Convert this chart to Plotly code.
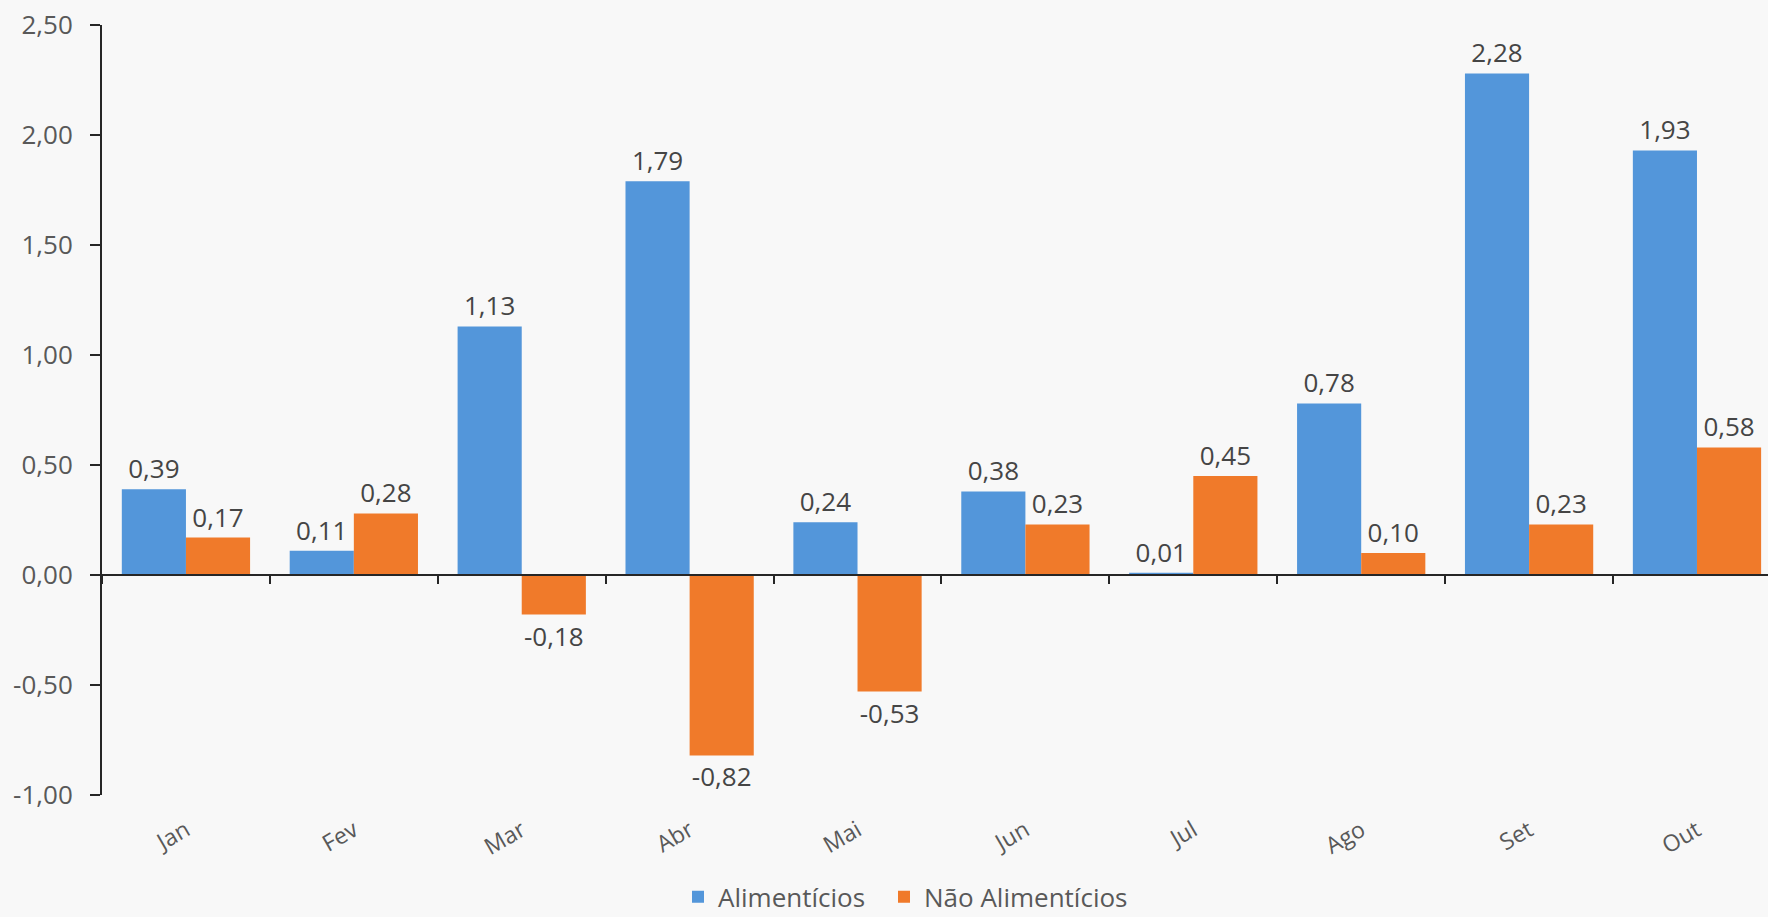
import plotly.graph_objects as go

months = ["Jan", "Fev", "Mar", "Abr", "Mai", "Jun", "Jul", "Ago", "Set", "Out"]
alimenticios = [0.39, 0.11, 1.13, 1.79, 0.24, 0.38, 0.01, 0.78, 2.28, 1.93]
nao_alimenticios = [0.17, 0.28, -0.18, -0.82, -0.53, 0.23, 0.45, 0.10, 0.23, 0.58]
y_ticks = [-1.0, -0.5, 0.0, 0.5, 1.0, 1.5, 2.0, 2.5]

def fmt(v):
    return f"{v:.2f}".replace(".", ",")

FONT = "Open Sans"
LABEL_COLOR = "#454545"
AXIS_TEXT = "#595959"
BG = "#F8F8F8"
ymin, ymax = -1.0, 2.5

fig = go.Figure()
fig.add_trace(go.Bar(
    name="Alimentícios", x=months, y=alimenticios,
    marker=dict(color="#5396DA", line=dict(width=0)),
    text=[fmt(v) for v in alimenticios], textposition="outside",
    textfont=dict(family=FONT, size=26, color=LABEL_COLOR),
    cliponaxis=False, legend="legend",
))
fig.add_trace(go.Bar(
    name="Não Alimentícios", x=months, y=nao_alimenticios,
    marker=dict(color="#F07A2A", line=dict(width=0)),
    text=[fmt(v) for v in nao_alimenticios], textposition="outside",
    textfont=dict(family=FONT, size=26, color=LABEL_COLOR),
    cliponaxis=False, legend="legend2",
))

legend_common = dict(
    orientation="h", xanchor="left",
    xref="container", yref="container", y=0.022, yanchor="middle",
    font=dict(family=FONT, size=26, color=AXIS_TEXT),
    bgcolor="rgba(0,0,0,0)", itemwidth=30,
)

fig.update_layout(
    width=1768, height=917,
    margin=dict(l=102, r=0, t=25, b=122, autoexpand=False),
    paper_bgcolor=BG, plot_bgcolor=BG,
    barmode="group", bargap=0.236, bargroupgap=0,
    font=dict(family=FONT, size=24, color=AXIS_TEXT),
    showlegend=True,
    legend=dict(legend_common, x=678 / 1768),
    legend2=dict(legend_common, x=884 / 1768),
    xaxis=dict(
        type="category", range=[-0.5, 9.423],
        anchor="free", position=(0 - ymin) / (ymax - ymin),
        showline=True, linecolor="#262626", linewidth=2,
        ticks="outside", tickson="boundaries", ticklen=8, tickwidth=2, tickcolor="#262626",
        showgrid=False, zeroline=False, automargin=False,
        tickangle=-30, ticklabelstandoff=232,
        tickfont=dict(family=FONT, size=23, color=AXIS_TEXT),
    ),
    yaxis=dict(
        range=[ymin, ymax], tickvals=y_ticks, ticktext=[fmt(v) for v in y_ticks],
        showline=True, linecolor="#262626", linewidth=2,
        ticks="outside", ticklen=10, tickwidth=2, tickcolor="#262626",
        showgrid=False, zeroline=False, automargin=False,
        ticklabelstandoff=12,
        tickfont=dict(family=FONT, size=26, color=AXIS_TEXT),
    ),
)

fig.write_html(
    "out.html",
    config={"displayModeBar": False},
    post_script="document.body.style.margin='0';document.body.style.background='%s';" % BG,
)
